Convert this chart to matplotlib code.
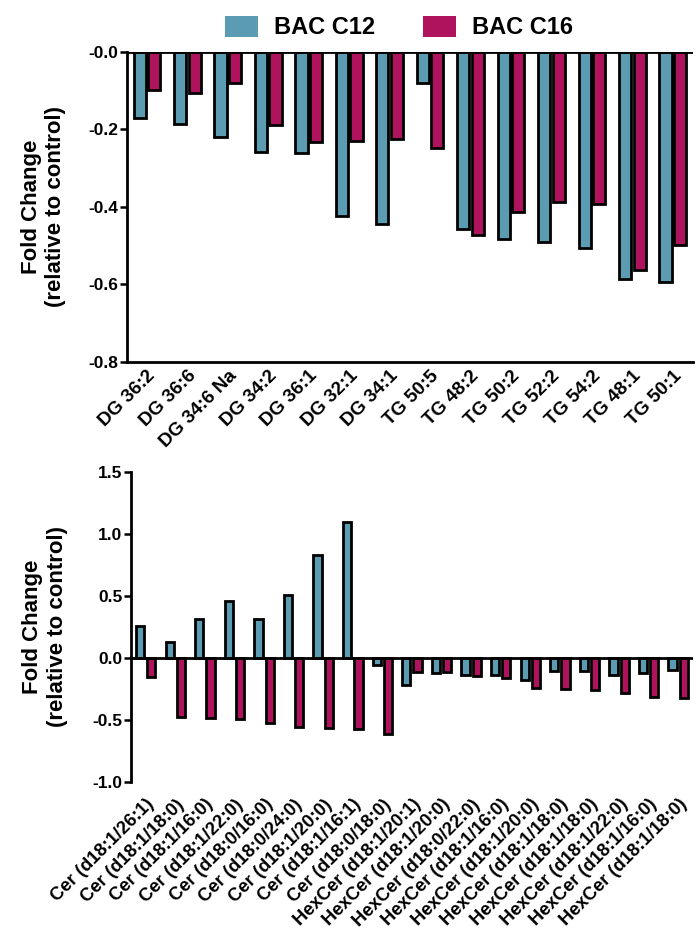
import numpy as np
import matplotlib
matplotlib.use('Agg')
import matplotlib.pyplot as plt
from matplotlib.patches import Patch

plt.rcParams['font.family'] = ['Liberation Sans', 'DejaVu Sans']
plt.rcParams['font.weight'] = 'bold'

# top panel: glycerolipids
lipids_top = ['DG 36:2', 'DG 36:6', 'DG 34:6 Na', 'DG 34:2', 'DG 36:1', 'DG 32:1', 'DG 34:1',
              'TG 50:5', 'TG 48:2', 'TG 50:2', 'TG 52:2', 'TG 54:2', 'TG 48:1', 'TG 50:1']
c12_top = [-0.172, -0.187, -0.219, -0.258, -0.262, -0.424, -0.445,
           -0.080, -0.456, -0.482, -0.490, -0.505, -0.585, -0.595]
c16_top = [-0.100, -0.107, -0.082, -0.189, -0.233, -0.231, -0.226,
           -0.249, -0.473, -0.413, -0.387, -0.394, -0.562, -0.499]

# bottom panel: ceramides
lipids_bot = ['Cer (d18:1/26:1)', 'Cer (d18:1/18:0)', 'Cer (d18:1/16:0)', 'Cer (d18:1/22:0)',
              'Cer (d18:0/16:0)', 'Cer (d18:0/24:0)', 'Cer (d18:1/20:0)', 'Cer (d18:1/16:1)',
              'Cer (d18:0/18:0)', 'HexCer (d18:1/20:1)', 'HexCer (d18:1/20:0)', 'HexCer (d18:0/22:0)',
              'HexCer (d18:1/16:0)', 'HexCer (d18:1/20:0)', 'HexCer (d18:1/18:0)', 'HexCer (d18:1/18:0)',
              'HexCer (d18:1/22:0)', 'HexCer (d18:1/16:0)', 'HexCer (d18:1/18:0)']
c12_bot = [0.260, 0.127, 0.314, 0.459, 0.314, 0.508, 0.832, 1.097, -0.057,
           -0.214, -0.120, -0.135, -0.140, -0.181, -0.108, -0.108, -0.135, -0.122, -0.095]
c16_bot = [-0.157, -0.476, -0.486, -0.492, -0.520, -0.557, -0.568, -0.576, -0.614,
           -0.114, -0.114, -0.149, -0.162, -0.243, -0.249, -0.257, -0.281, -0.311, -0.324]

blue = '#5b9cb3'
pink = '#b0135e'

fig = plt.figure(figsize=(7, 9.4), dpi=100)
ax1 = fig.add_axes([0.181, 0.615, 0.809, 0.33])
ax2 = fig.add_axes([0.187, 0.168, 0.803, 0.33])


def style(ax):
    ax.spines['top'].set_visible(False)
    ax.spines['right'].set_visible(False)
    ax.spines['left'].set_linewidth(2)
    ax.spines['bottom'].set_linewidth(2)
    ax.tick_params(axis='y', length=5, width=1.8, labelsize=12.5, pad=1)
    ax.tick_params(axis='x', length=0, labelsize=13.7, pad=4)


x = np.arange(len(lipids_top))
w = 0.3
ax1.bar(x - 0.18, c12_top, w, color=blue, edgecolor='black', linewidth=2)
ax1.bar(x + 0.18, c16_top, w, color=pink, edgecolor='black', linewidth=2)
ax1.axhline(0, color='black', lw=2)
ax1.set_xlim(-0.5, len(lipids_top) - 0.5)
ax1.set_ylim(-0.8, 0)
ax1.set_yticks([0, -0.2, -0.4, -0.6, -0.8])
ax1.set_yticklabels(['-0.0', '-0.2', '-0.4', '-0.6', '-0.8'])
ax1.set_xticks(x)
ax1.set_xticklabels(lipids_top, rotation=45, ha='right', rotation_mode='anchor')
style(ax1)
ax1.set_ylabel('Fold Change\n(relative to control)', fontsize=16, fontweight='bold', labelpad=16)

x2 = np.arange(len(lipids_bot))
w2 = 0.28
ax2.bar(x2 - 0.19, c12_bot, w2, color=blue, edgecolor='black', linewidth=2)
ax2.bar(x2 + 0.19, c16_bot, w2, color=pink, edgecolor='black', linewidth=2)
ax2.axhline(0, color='black', lw=2)
ax2.set_xlim(-0.5, len(lipids_bot) - 0.5)
ax2.set_ylim(-1.0, 1.5)
ax2.set_yticks([1.5, 1.0, 0.5, 0.0, -0.5, -1.0])
ax2.set_yticklabels(['1.5', '1.0', '0.5', '0.0', '-0.5', '-1.0'])
ax2.set_xticks(x2)
ax2.set_xticklabels(lipids_bot, rotation=45, ha='right', rotation_mode='anchor')
style(ax2)
ax2.spines['bottom'].set_visible(False)
ax2.tick_params(axis='x', labelsize=13.2, pad=10)
ax2.set_ylabel('Fold Change\n(relative to control)', fontsize=16, fontweight='bold', labelpad=18)

handles = [Patch(facecolor=blue, edgecolor='none', label='BAC C12'),
           Patch(facecolor=pink, edgecolor='none', label='BAC C16')]
fig.legend(handles=handles, loc='upper center', bbox_to_anchor=(0.57, 1.006), ncol=2,
           frameon=False, prop={'size': 17, 'weight': 'bold'}, handlelength=1.4,
           handleheight=1.0, columnspacing=2.0, handletextpad=0.7)

fig.savefig('out.png', dpi=100)
